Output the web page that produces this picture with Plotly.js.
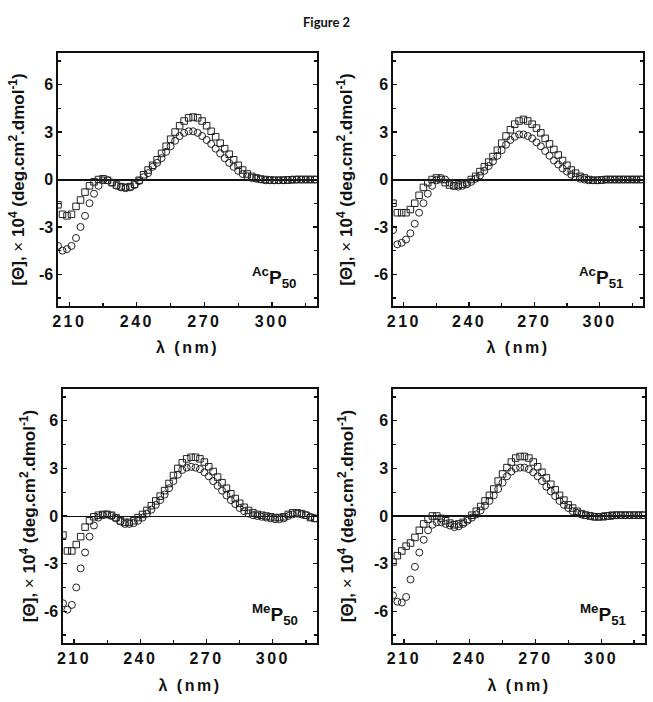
<!DOCTYPE html>
<html>
<head>
<meta charset="utf-8">
<script src="https://cdn.plot.ly/plotly-3.0.1.min.js"></script>
<style>
html,body{margin:0;padding:0;background:#fff;}
#chart{width:653px;height:702px;}
#chart .xtick text, #chart .x2tick text, #chart .x3tick text, #chart .x4tick text{letter-spacing:2.5px;}
</style>
</head>
<body>
<div id="chart"></div>
<script>
// Wavelength (nm)
const wavelength = [205,207,209,211,213,215,217,219,221,223,225,227,229,231,233,235,237,239,241,243,245,247,249,251,253,255,257,259,261,263,265,267,269,271,273,275,277,279,281,283,285,287,289,291,293,295,297,299,301,303,305,307,309,311,313,315,317,319];

// AcP50
const acP50_sq = [-1.6,-2.2,-2.3,-2.2,-1.7,-1.3,-0.8,-0.4,-0.15,0.0,0.05,-0.05,-0.2,-0.35,-0.45,-0.5,-0.45,-0.3,-0.05,0.3,0.6,0.9,1.25,1.65,2.1,2.55,3.0,3.4,3.7,3.9,3.95,3.9,3.7,3.4,3.05,2.7,2.3,1.95,1.6,1.25,0.9,0.6,0.35,0.2,0.1,0.03,0.0,-0.03,-0.05,-0.05,-0.04,-0.03,-0.02,0,0,0,0,0];
const acP50_ci = [-4.2,-4.5,-4.4,-4.2,-3.7,-3.0,-2.3,-1.5,-0.9,-0.4,-0.05,-0.05,-0.2,-0.4,-0.5,-0.55,-0.5,-0.35,-0.1,0.15,0.4,0.8,1.05,1.35,1.75,2.1,2.45,2.75,2.95,3.05,3.05,2.95,2.75,2.5,2.25,1.95,1.65,1.35,1.05,0.8,0.55,0.35,0.2,0.1,0.05,0.0,-0.05,-0.05,-0.05,-0.05,-0.05,-0.03,0,0,0,0,0,0];

// AcP51
const acP51_sq = [-1.5,-2.1,-2.1,-2.1,-1.9,-1.5,-1.0,-0.5,-0.2,0.0,0.1,0.0,-0.2,-0.35,-0.4,-0.35,-0.3,-0.2,0.0,0.2,0.5,0.8,1.1,1.45,1.85,2.3,2.75,3.15,3.5,3.7,3.8,3.7,3.5,3.25,2.95,2.6,2.25,1.9,1.55,1.2,0.9,0.6,0.4,0.2,0.1,0.0,-0.05,-0.05,-0.03,0,0,0,0,0,0,0,0,0];
const acP51_ci = [-3.2,-4.1,-4.0,-3.8,-3.4,-2.8,-2.1,-1.5,-0.9,-0.4,-0.05,0.1,0.0,-0.2,-0.4,-0.45,-0.4,-0.3,-0.15,0.05,0.25,0.55,0.85,1.15,1.5,1.85,2.2,2.5,2.7,2.85,2.85,2.75,2.6,2.35,2.1,1.8,1.5,1.2,0.95,0.7,0.5,0.3,0.15,0.05,0.0,-0.05,-0.05,-0.05,-0.03,0,0,0,0,0,0,0,0,0];

// MeP50
const meP50_sq = [-1.2,-2.2,-2.2,-1.8,-1.3,-0.7,-0.3,-0.05,0.05,0.1,0.1,0.05,-0.1,-0.3,-0.4,-0.4,-0.3,-0.1,0.1,0.35,0.65,0.95,1.25,1.6,2.05,2.55,3.0,3.35,3.6,3.7,3.7,3.6,3.4,3.1,2.8,2.45,2.1,1.75,1.4,1.1,0.8,0.55,0.35,0.2,0.1,0.05,0.0,-0.05,-0.1,-0.1,-0.05,0.1,0.2,0.2,0.15,0.05,-0.1,-0.15];
const meP50_ci = [-5.5,-5.9,-5.6,-4.5,-3.3,-2.3,-1.3,-0.6,-0.1,0.05,0.1,0.0,-0.15,-0.35,-0.5,-0.5,-0.45,-0.3,-0.1,0.15,0.4,0.7,1.0,1.35,1.75,2.2,2.6,2.9,3.05,3.1,3.05,2.95,2.75,2.5,2.2,1.9,1.6,1.3,1.0,0.75,0.5,0.3,0.15,0.05,0.0,-0.05,-0.1,-0.15,-0.2,-0.2,-0.15,0.0,0.1,0.15,0.1,0.05,-0.05,-0.15];

// MeP51
const meP51_sq = [-2.9,-2.5,-2.2,-1.9,-1.7,-1.35,-0.9,-0.5,-0.2,0.0,0.0,-0.15,-0.3,-0.45,-0.55,-0.5,-0.4,-0.2,0.05,0.3,0.6,0.95,1.3,1.7,2.2,2.65,3.05,3.4,3.65,3.75,3.75,3.65,3.4,3.1,2.75,2.4,2.0,1.65,1.3,1.0,0.7,0.5,0.3,0.15,0.05,0.0,-0.05,-0.05,-0.05,0.0,0.05,0.05,0.05,0.05,0.05,0.05,0.05,0.05];
const meP51_ci = [-5.0,-5.4,-5.45,-5.1,-4.0,-3.2,-2.3,-1.5,-0.9,-0.55,-0.4,-0.4,-0.5,-0.6,-0.7,-0.65,-0.5,-0.3,-0.1,0.1,0.35,0.65,0.95,1.3,1.7,2.1,2.5,2.8,3.0,3.05,3.05,2.95,2.75,2.5,2.2,1.85,1.55,1.25,0.95,0.7,0.5,0.3,0.2,0.1,0.05,0.0,-0.05,-0.05,0.0,0.0,0.0,0.05,0.05,0.05,0.05,0.05,0.05,0.05];

const panelLabels = ['<sup>Ac</sup>P<sub>50</sub>','<sup>Ac</sup>P<sub>51</sub>','<sup>Me</sup>P<sub>50</sub>','<sup>Me</sup>P<sub>51</sub>'];
const xTickVals = [210,240,270,300];
const xTickLabels = ['210','240','270','300'];
const yTickVals = [-6,-3,0,3,6];
const yTickLabels = ['-6','-3','0','3','6'];
const figureTitle = 'Figure 2';
const xTitle = 'λ (nm)';
const yTitle = '[Θ], <span style="font-weight:normal">×</span> 10<sup>4</sup> (deg.cm<sup>2</sup>.dmol<sup>-1</sup>)';

const panels = [
  {sq: acP50_sq, ci: acP50_ci, xd:[58/653,317/653], yd:[1-306/702,1-53/702], zw:2, ys:10, xs:13},
  {sq: acP51_sq, ci: acP51_ci, xd:[393/653,643/653], yd:[1-306/702,1-53/702], zw:2, ys:17, xs:13},
  {sq: meP50_sq, ci: meP50_ci, xd:[63/653,317/653], yd:[1-643/702,1-389/702], zw:1, ys:4, xs:14},
  {sq: meP51_sq, ci: meP51_ci, xd:[393/653,645/653], yd:[1-643/702,1-389/702], zw:2, ys:16, xs:14}
];

const FAM = '"Liberation Sans", Arial, Helvetica, sans-serif';
const spaced = s => '<span style="letter-spacing:2.5px">' + s + '</span>';
const tickFont = {family:FAM, size:16, color:'#111', weight:'bold'};
const titleFont = {family:FAM, size:16, color:'#111', weight:'bold'};

const data = [];
const layout = {
  width:653, height:702,
  margin:{l:0,r:0,t:0,b:0},
  paper_bgcolor:'#fff', plot_bgcolor:'#fff',
  showlegend:false,
  annotations:[
    {text:figureTitle, xref:'paper', yref:'paper', x:0.5, y:1-22/702, xanchor:'center', yanchor:'middle', showarrow:false,
     font:{family:'Lato, Carlito, sans-serif', size:13, color:'#111', weight:'bold'}}
  ]
};

panels.forEach((p,i)=>{
  const n = i===0 ? '' : String(i+1);
  const xa = 'x'+n, ya = 'y'+n;
  data.push({x:wavelength, y:p.sq, xaxis:xa, yaxis:ya, type:'scatter', mode:'markers',
    marker:{symbol:'square-open', size:6.5, color:'#222', line:{width:1}}});
  data.push({x:wavelength, y:p.ci, xaxis:xa, yaxis:ya, type:'scatter', mode:'markers',
    marker:{symbol:'circle-open', size:7, color:'#222', line:{width:1}}});
  layout['xaxis'+n] = {
    domain:p.xd, anchor:ya, range:[205,320], tickmode:'array', tickvals:xTickVals, ticktext:xTickLabels,
    ticks:'inside', ticklen:4, tickwidth:1.2,
    tickcolor:'#111', showline:true, linecolor:'#111', linewidth:1.6, mirror:true, showgrid:false, zeroline:false,
    tickfont:tickFont, minor:{tickvals:[225,255,285,315], ticks:'inside', ticklen:3, tickcolor:'#111'},
    title:{text:spaced(xTitle), font:titleFont, standoff:p.xs}
  };
  layout['yaxis'+n] = {
    domain:p.yd, anchor:xa, range:[-8,8], tickmode:'array', tickvals:yTickVals, ticktext:yTickLabels,
    ticks:'inside', ticklen:4, tickwidth:1.2,
    tickcolor:'#111', showline:true, linecolor:'#111', linewidth:1.6, mirror:'ticks', showgrid:false,
    zeroline:true, zerolinecolor:'#111', zerolinewidth:p.zw,
    tickfont:tickFont, minor:{tickvals:[-7.5,-4.5,-1.5,1.5,4.5,7.5], ticks:'inside', ticklen:3, tickcolor:'#111'},
    title:{text:yTitle, font:{family:FAM, size:17, color:'#111', weight:'bold'}, standoff:p.ys}
  };
  layout.annotations.push({text:panelLabels[i], xref:xa, yref:ya, x:301, y:-6.2, xanchor:'center', yanchor:'middle',
    showarrow:false, font:{family:FAM, size:19, color:'#111', weight:'bold'}});
});

Plotly.newPlot('chart', data, layout, {displayModeBar:false, staticPlot:true});
</script>
</body>
</html>
